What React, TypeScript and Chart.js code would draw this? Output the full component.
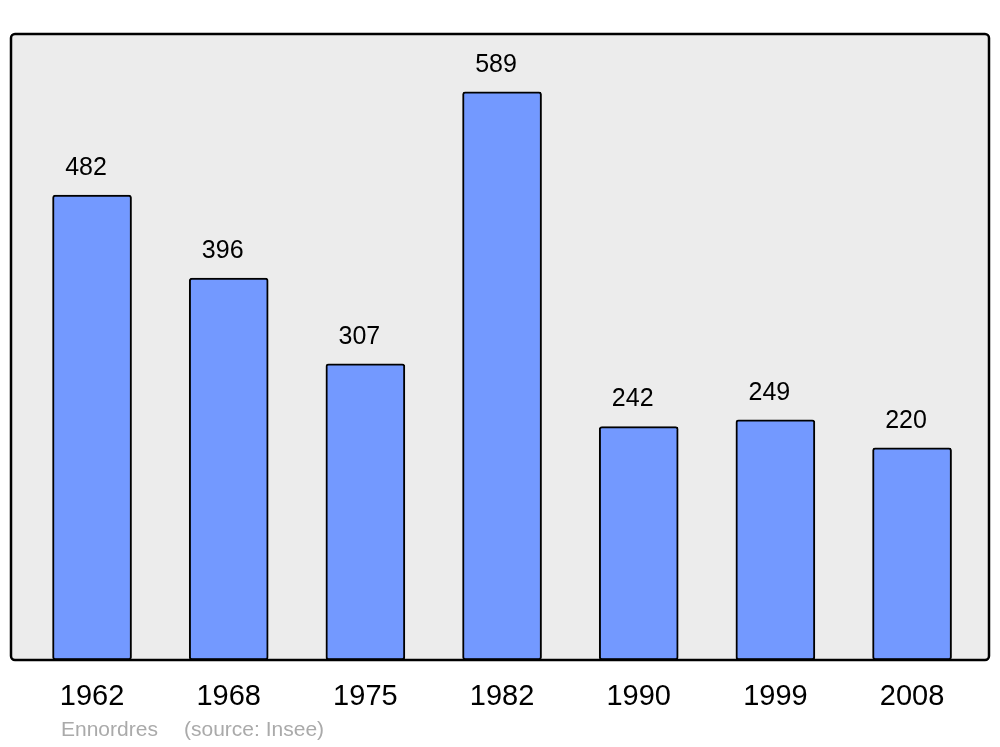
import React, { useEffect, useRef } from "react";
import { Chart, registerables } from "chart.js";

Chart.register(...registerables);

const years = ["1962", "1968", "1975", "1982", "1990", "1999", "2008"];
const population = [482, 396, 307, 589, 242, 249, 220];
const sourceName = "Ennordres";
const sourceNote = "(source: Insee)";

const FONT = "'Liberation Sans', Arial, sans-serif";

export default function App() {
  const ref = useRef<HTMLCanvasElement>(null);
  useEffect(() => {
    document.body.style.margin = "0";
    const canvas = ref.current!;
    const bgPlugin = {
      id: "bgbox",
      beforeDatasetsDraw(chart: any) {
        const { ctx, chartArea: a } = chart;
        ctx.save();
        ctx.fillStyle = "#ececec";
        ctx.beginPath();
        ctx.roundRect(a.left, a.top, a.right - a.left, a.bottom - a.top, 4);
        ctx.fill();
        ctx.restore();
      },
      afterDatasetsDraw(chart: any) {
        const { ctx, chartArea: a } = chart;
        ctx.save();
        ctx.strokeStyle = "#000";
        ctx.lineWidth = 2.5;
        ctx.beginPath();
        ctx.roundRect(a.left, a.top, a.right - a.left, a.bottom - a.top, 4);
        ctx.stroke();
        // value labels
        const meta = chart.getDatasetMeta(0);
        ctx.fillStyle = "#000";
        ctx.font = `25px ${FONT}`;
        ctx.textAlign = "center";
        ctx.textBaseline = "middle";
        meta.data.forEach((el: any, i: number) => {
          ctx.fillText(String(population[i]), el.x - 6, el.y - 27);
        });
        // source
        ctx.fillStyle = "#aaaaaa";
        ctx.font = `21px ${FONT}`;
        ctx.textAlign = "left";
        ctx.fillText(sourceName, 61, 730);
        ctx.fillText(sourceNote, 184, 730);
        ctx.restore();
      },
    };
    const chart = new Chart(canvas, {
      type: "bar",
      data: {
        datasets: [
          {
            data: population.map((v, i) => ({ x: i, y: v })),
            backgroundColor: "#7399ff",
            borderColor: "#000",
            borderWidth: 2,
            borderRadius: 3,
            borderSkipped: false,
            barThickness: 79,
          },
        ],
      },
      options: {
        animation: false,
        responsive: false,
        layout: { padding: { left: 11, right: 11, top: 34, bottom: 0 } },
        plugins: { legend: { display: false }, tooltip: { enabled: false } },
        scales: {
          x: {
            type: "linear",
            offset: false,
            min: -0.593,
            max: 6.563,
            grid: { display: false },
            border: { display: false },
            afterBuildTicks(scale: any) {
              scale.ticks = years.map((_, i) => ({ value: i }));
            },
            afterFit(scale: any) {
              scale.height = 87;
            },
            ticks: {
              padding: 12,
              color: "#000",
              font: { size: 29, family: FONT },
              maxRotation: 0,
              autoSkip: false,
              callback: (v: any) => years[v as number] ?? "",
            },
          },
          y: {
            display: false,
            min: 0,
            max: 649,
          },
        },
      },
      plugins: [bgPlugin],
    } as any);
    return () => chart.destroy();
  }, []);
  return <canvas ref={ref} width={1000} height={747} style={{ display: "block" }} />;
}
